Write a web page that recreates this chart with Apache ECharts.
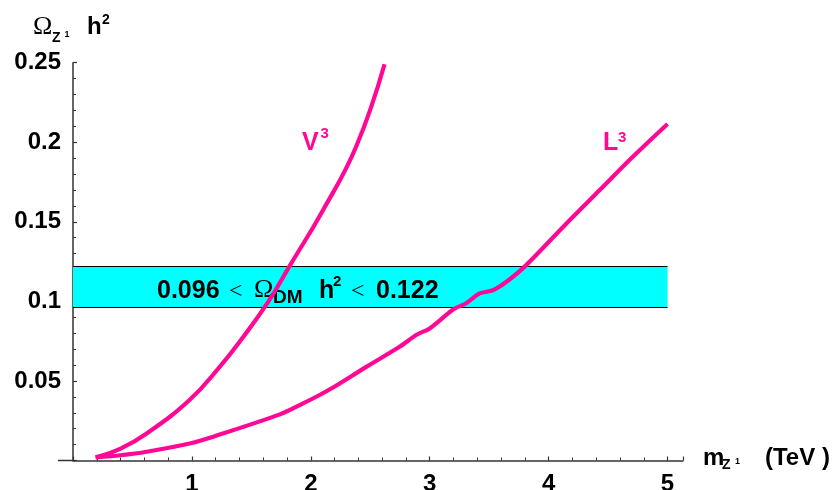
<!DOCTYPE html>
<html>
<head>
<meta charset="utf-8">
<script src="https://cdn.jsdelivr.net/npm/echarts@6/dist/echarts.min.js"></script>
<style>
  html, body { margin: 0; padding: 0; background: #fff; }
  #chart { width: 838px; height: 490px; }
</style>
</head>
<body>
<div id="chart"></div>
<script>
// relic density vs mass
const v3Curve = [
  [0.19, 0.002], [0.4, 0.0075], [0.62, 0.017], [0.98, 0.038], [1.23, 0.0585],
  [1.43, 0.0775], [1.64, 0.0995], [1.82, 0.122], [2.1, 0.157], [2.38, 0.197], [2.62, 0.249]
];
const l3Curve = [
  [0.19, 0.002], [0.4, 0.0033], [0.62, 0.0055], [1.0, 0.011], [1.18, 0.015],
  [1.74, 0.029], [1.91, 0.035], [2.07, 0.041], [2.19, 0.046], [2.47, 0.059],
  [2.75, 0.0716], [2.89, 0.079], [3.0, 0.083], [3.2, 0.095], [3.31, 0.099],
  [3.42, 0.105], [3.53, 0.107], [3.64, 0.112], [3.8, 0.122], [4.15, 0.149],
  [4.43, 0.170], [4.71, 0.191], [5.0, 0.2115]
];
const bandLow = 0.096;
const bandHigh = 0.122;
const bandXRange = [0, 5];
const xTicks = [1, 2, 3, 4, 5];
const yTicks = [0.05, 0.1, 0.15, 0.2, 0.25];

const pink = "#FF0896";
const axisColor = "#333";
const sans = "Liberation Sans, Arial, sans-serif";
const serif = "Liberation Serif, Times New Roman, serif";

const chart = echarts.init(document.getElementById("chart"));

// small helper for the text bits (title pieces, sub/superscripts)
const txt = (text, x, y, font, color) => ({
  type: "text",
  x: x,
  y: y,
  z: 5,
  silent: true,
  style: {
    text: text,
    font: font,
    fill: color || "#000",
    verticalAlign: "middle",
    align: "left",
  },
});

const option = {
  animation: false,
  grid: {
    left: 73, right: 155, top: 62.7, bottom: 29.5,
    containLabel: false,
    outerBoundsMode: "none", // keep the grid where it is, labels may touch the edge
  },
  xAxis: {
    type: "value",
    min: 0,
    max: 5.13,
    interval: 1,
    axisLine: { show: true, lineStyle: { color: axisColor, width: 1.5 } },
    axisTick: { show: true, inside: true, length: 4, lineStyle: { color: axisColor, width: 1.2 } },
    minorTick: { show: true, splitNumber: 5, length: 3, lineStyle: { color: axisColor, width: 1 } },
    splitLine: { show: false },
    axisLabel: {
      showMinLabel: false,
      showMaxLabel: false,
      margin: 12,
      color: "#000",
      fontFamily: sans,
      fontWeight: "bold",
      fontSize: 24,
      formatter: (v) => (xTicks.includes(v) ? String(v) : ""),
    },
  },
  yAxis: {
    type: "value",
    min: 0,
    max: 0.25,
    interval: 0.05,
    axisLine: { show: true, lineStyle: { color: axisColor, width: 1.5 } },
    axisTick: { show: true, inside: true, length: 4, lineStyle: { color: axisColor, width: 1.2 } },
    minorTick: { show: true, splitNumber: 5, length: 3, lineStyle: { color: axisColor, width: 1 } },
    splitLine: { show: false },
    axisLabel: {
      showMinLabel: false,
      margin: 12,
      color: "#000",
      fontFamily: sans,
      fontWeight: "bold",
      fontSize: 24,
      formatter: (v) => {
        const t = yTicks.find((k) => Math.abs(k - v) < 1e-9);
        return t === undefined ? "" : String(t);
      },
    },
  },
  series: [
    {
      name: "band",
      type: "line",
      data: [],
      z: 1,
      markArea: {
        silent: true,
        itemStyle: { color: "#00FFFF", borderWidth: 0 },
        data: [[{ coord: [bandXRange[0], bandLow] }, { coord: [bandXRange[1], bandHigh] }]],
      },
      markLine: {
        silent: true,
        symbol: "none",
        label: { show: false },
        lineStyle: { color: "#000", width: 1.2, type: "solid" },
        data: [
          [{ coord: [bandXRange[0], bandLow] }, { coord: [bandXRange[1], bandLow] }],
          [{ coord: [bandXRange[0], bandHigh] }, { coord: [bandXRange[1], bandHigh] }],
        ],
      },
    },
    {
      name: "V3",
      type: "line",
      data: v3Curve,
      z: 10,
      smooth: 0.45,
      showSymbol: false,
      lineStyle: { color: pink, width: 4.2 },
    },
    {
      name: "L3",
      type: "line",
      data: l3Curve,
      z: 10,
      smooth: 0.3,
      showSymbol: false,
      lineStyle: { color: pink, width: 4.2 },
    },
  ],
  graphic: [
    // x axis runs a little past the y axis on the left
    {
      type: "line",
      silent: true,
      shape: { x1: 58, y1: 460.5, x2: 73, y2: 460.5 },
      style: { stroke: axisColor, lineWidth: 1.5 },
    },
    // y axis title  Ω_Z¹ h²
    txt("Ω", 33, 27, "26px " + serif),
    txt("Z", 52, 38.5, "bold 14px " + sans),
    txt("1", 64.5, 35, "bold 9px " + sans),
    txt("h", 87, 27.5, "bold 24px " + sans),
    txt("2", 102, 20.5, "bold 14px " + sans),
    // x axis title  m_Z¹ (TeV )
    txt("m", 703, 458, "bold 24px " + sans),
    txt("Z", 722, 465, "bold 14px " + sans),
    txt("1", 735, 461.5, "bold 9px " + sans),
    txt("(TeV )", 765, 458.5, "bold 24px " + sans),
    // band text  0.096 < Ω_DM h² < 0.122
    txt("0.096", 157, 291, "bold 25px " + sans),
    txt("<", 229, 291.5, "24px " + serif),
    txt("Ω", 254, 290.5, "26px " + serif),
    txt("DM", 273, 297.5, "bold 19px " + sans),
    txt("h", 319, 291, "bold 25px " + sans),
    txt("2", 333, 281.5, "bold 15px " + sans),
    txt("<", 351, 291.5, "24px " + serif),
    txt("0.122", 376, 291, "bold 25px " + sans),
    // curve labels
    txt("V", 302, 143.5, "bold 25px " + sans, pink),
    txt("3", 320.5, 134, "bold 15px " + sans, pink),
    txt("L", 603, 143.5, "bold 25px " + sans, pink),
    txt("3", 618, 137.5, "bold 15px " + sans, pink),
  ],
};

chart.setOption(option);
</script>
</body>
</html>
